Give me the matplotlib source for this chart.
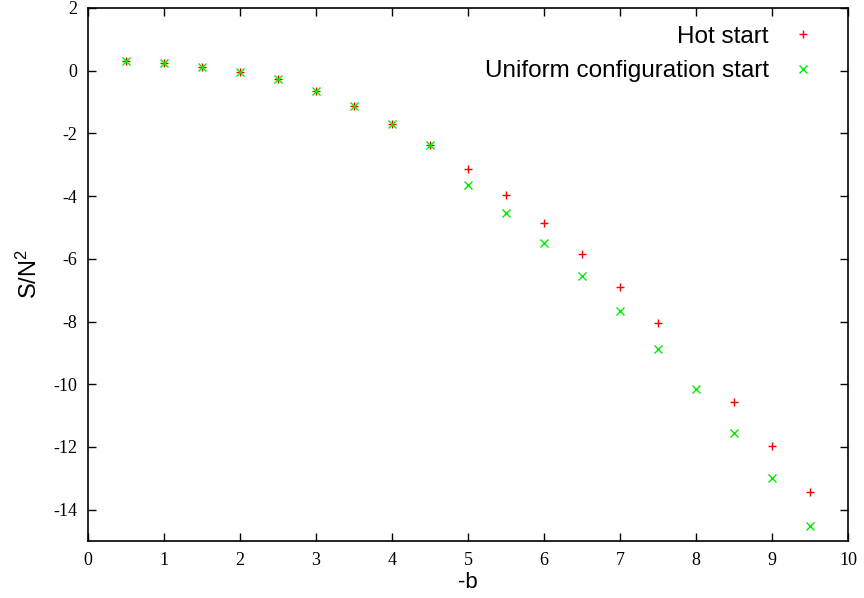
import matplotlib
matplotlib.use("Agg")
import matplotlib.pyplot as plt
import numpy as np

plt.rcParams['mathtext.fontset'] = 'custom'
plt.rcParams['mathtext.rm'] = 'Liberation Sans'
plt.rcParams['mathtext.it'] = 'Liberation Sans'
plt.rcParams['mathtext.bf'] = 'Liberation Sans:bold'

# -b values and S/N^2 for the two starts
b_hot = [0.5, 1.0, 1.5, 2.0, 2.5, 3.0, 3.5, 4.0, 4.5, 5.0, 5.5, 6.0, 6.5, 7.0, 7.5, 8.5, 9.0, 9.5]
s_hot = [0.30, 0.23, 0.13, -0.03, -0.28, -0.64, -1.12, -1.71, -2.38, -3.13, -3.95, -4.85,
         -5.85, -6.89, -8.04, -10.58, -11.96, -13.45]

b_uni = [0.5, 1.0, 1.5, 2.0, 2.5, 3.0, 3.5, 4.0, 4.5, 5.0, 5.5, 6.0, 6.5, 7.0, 7.5, 8.0, 8.5, 9.0, 9.5]
s_uni = [0.30, 0.23, 0.13, -0.03, -0.28, -0.64, -1.12, -1.71, -2.38, -3.66, -4.54, -5.51,
         -6.55, -7.66, -8.88, -10.15, -11.54, -12.99, -14.53]

xticks = np.arange(0, 11, 1)
yticks = np.arange(-14, 3, 2)

fig = plt.figure(figsize=(8.64, 5.98), dpi=100)
ax = fig.add_axes([88 / 864, 57 / 598, 760 / 864, 533 / 598])

ax.plot(b_hot, s_hot, ls='none', marker='+', ms=6, mew=1.0, color='#ff0000', label='Hot start')
ax.plot(b_uni, s_uni, ls='none', marker='x', ms=5.5, mew=1.0, color='#00ee00',
        label='Uniform configuration start')

ax.set_xlim(0, 10)
ax.set_ylim(-15, 2)
ax.set_xticks(xticks)
ax.set_yticks(yticks)
ax.set_xticklabels([str(v) for v in xticks], family='Liberation Serif', fontsize=13)
ax.set_yticklabels([str(v) for v in yticks], family='Liberation Serif', fontsize=13)
ax.tick_params(direction='in', length=6, width=1, top=True, right=True, pad=8)
for sp in ax.spines.values():
    sp.set_linewidth(1.2)

ax.set_xlabel('-b', family='Liberation Sans', fontsize=16, labelpad=2)
ax.set_ylabel('S/N$^2$', family='Liberation Sans', fontsize=17, labelpad=8)

leg = ax.legend(loc='upper right', bbox_to_anchor=(0.969, 0.985), frameon=False,
                markerfirst=False, handlelength=1.0, handletextpad=0.9,
                borderaxespad=0.0, labelspacing=0.52,
                prop={'family': 'Liberation Sans', 'size': 17.5})
for t in leg.get_texts():
    t.set_ha('right')
leg._legend_box.align = 'right'

fig.savefig('out.png', dpi=100)
